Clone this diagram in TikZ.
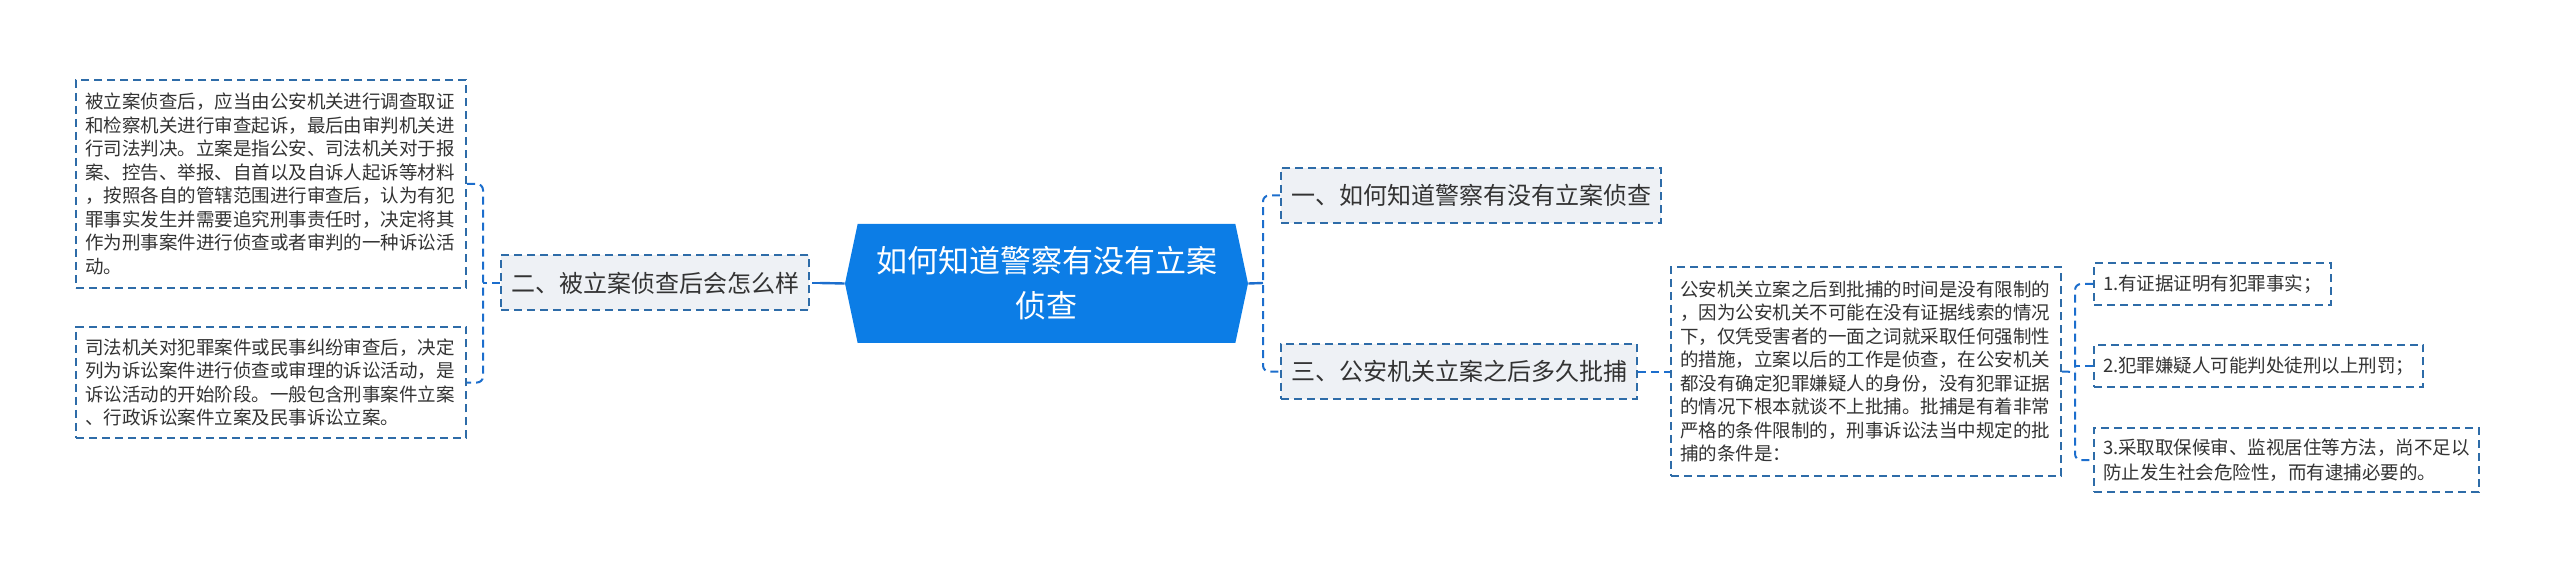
\documentclass[tikz,border=0pt]{standalone}
\usepackage{fontspec}
\setmainfont{Noto Sans CJK SC}
\usepackage{tikz}
\usetikzlibrary{shapes.symbols}
\definecolor{rootblue}{RGB}{12,125,230}
\definecolor{boxline}{RGB}{46,108,168}
\definecolor{linkblue}{RGB}{28,110,205}
\definecolor{boxfill}{RGB}{238,241,245}
\definecolor{txt}{RGB}{51,51,51}

\begin{document}
\begin{tikzpicture}[
		x=0.5pt, y=-0.5pt,
		every node/.style={rectangle, inner sep=0pt, text=txt},
		dashbox/.style={draw=boxline, line width=1pt, dash pattern=on 4pt off 2.5pt},
		root/.style={signal, signal to=west and east, signal pointer angle=156, fill=rootblue,
			text=white, minimum width=201.5pt, minimum height=59.5pt, align=center,
			font=\fontsize{15.5}{22.5}\selectfont},
		topic/.style={dashbox, fill=boxfill, inner xsep=5pt, minimum height=27.5pt,
			font=\fontsize{12}{14}\selectfont},
		para/.style={dashbox, fill=white, inner xsep=4.5pt, inner ysep=6pt, text width=186pt,
			align=left, font=\fontsize{9.25}{11.75}\selectfont},
		item/.style={dashbox, fill=white, inner xsep=4.5pt, inner ysep=5pt, align=left,
			font=\fontsize{9.25}{12.5}\selectfont},
		link/.style={draw=linkblue, line width=1pt, dash pattern=on 4pt off 2.5pt, rounded corners=3pt},
		trunk/.style={draw=linkblue, line width=1.2pt}
	]
  \useasboundingbox (0,0) rectangle (2560,572);
  % centre
  \node (root) [root] at (1046.5,283.5) {如何知道警察有没有立案\\侦查};
  % left branch
  \node (b_two) [topic, anchor=east] at (810,283) {二、被立案侦查后会怎么样};
  \node (b_two_a) [para, anchor=east, minimum height=104pt] at (467,184) {被立案侦查后，应当由公安机关进行调查取证\\和检察机关进行审查起诉，最后由审判机关进\\行司法判决。立案是指公安、司法机关对于报\\案、控告、举报、自首以及自诉人起诉等材料\\，按照各自的管辖范围进行审查后，认为有犯\\罪事实发生并需要追究刑事责任时，决定将其\\作为刑事案件进行侦查或者审判的一种诉讼活\\动。};
  \node (b_two_b) [para, anchor=east, minimum height=55.5pt] at (467,382.5) {司法机关对犯罪案件或民事纠纷审查后，决定\\列为诉讼案件进行侦查或审理的诉讼活动，是\\诉讼活动的开始阶段。一般包含刑事案件立案\\、行政诉讼案件立案及民事诉讼立案。};
  % right branch
  \node (b_one) [topic, anchor=west] at (1280,195.5) {一、如何知道警察有没有立案侦查};
  \node (b_three) [topic, anchor=west] at (1280,371.5) {三、公安机关立案之后多久批捕};
  \node (b_three_a) [para, anchor=west, minimum height=104.5pt] at (1670,371.5) {公安机关立案之后到批捕的时间是没有限制的\\，因为公安机关不可能在没有证据线索的情况\\下，仅凭受害者的一面之词就采取任何强制性\\的措施，立案以后的工作是侦查，在公安机关\\都没有确定犯罪嫌疑人的身份，没有犯罪证据\\的情况下根本就谈不上批捕。批捕是有着非常\\严格的条件限制的，刑事诉讼法当中规定的批\\捕的条件是：};
  \node (c_1) [item, anchor=west, minimum height=21pt] at (2093,284) {1.有证据证明有犯罪事实；};
  \node (c_2) [item, anchor=west, minimum height=21pt] at (2093,366) {2.犯罪嫌疑人可能判处徒刑以上刑罚；};
  \node (c_3) [item, anchor=west, minimum height=32pt] at (2093,460) {3.采取取保候审、监视居住等方法，尚不足以\\防止发生社会危险性，而有逮捕必要的。};
  % joints
  \coordinate (j_root) at (820,283);
  \coordinate (j_left) at (483,283);
  \coordinate (j_right) at (1263,283);
  \coordinate (j_far) at (2075,372);
  % links
  \draw [trunk] (root.west) -- (j_root);
  \draw [link] (j_root) -- (b_two.east);
  \draw [link] (b_two.west) -- (j_left);
  \draw [link] (b_two_a.east) -| (j_left) |- (b_two_b.east);
  \draw [trunk] (root.east) -- (j_right);
  \draw [link] (b_one.west) -| (j_right) |- (b_three.west);
  \draw (b_three.east) edge [link] (b_three_a.west);
  \draw [link] (b_three_a.east) -- (j_far);
  \draw [link] (c_1.west) -| (j_far) |- (c_3.west);
  \draw [link] (c_2.west) -- (c_2.west -| j_far);
\end{tikzpicture}
\end{document}
